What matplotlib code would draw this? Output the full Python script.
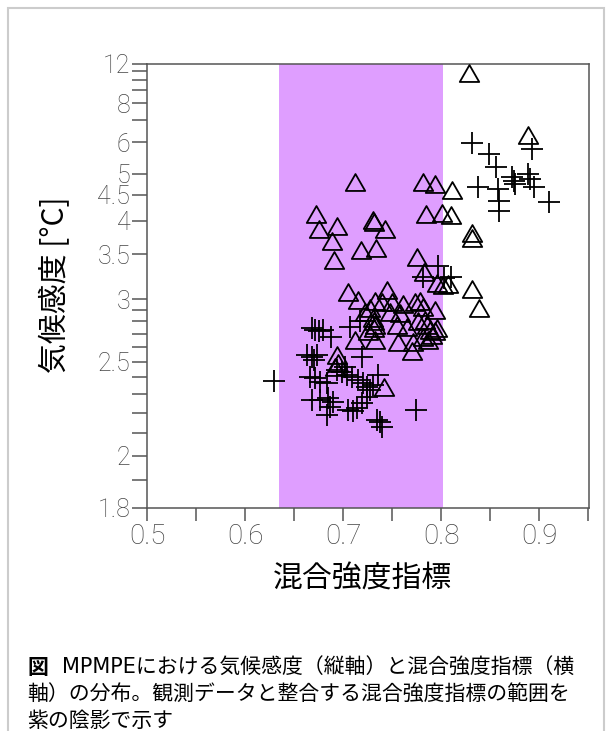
import matplotlib.pyplot as plt
from matplotlib.patches import Rectangle
from matplotlib.path import Path

# data
tri_x = [0.829, 0.889, 0.712, 0.782, 0.794, 0.811, 0.785, 0.801, 0.810, 0.832, 0.832,
         0.672, 0.675, 0.694, 0.689, 0.691, 0.731, 0.732, 0.743, 0.718, 0.734, 0.775, 0.783,
         0.796, 0.802, 0.807, 0.832, 0.839, 0.705, 0.715, 0.745, 0.733, 0.728, 0.740, 0.750,
         0.748, 0.761, 0.7735, 0.779, 0.782, 0.794, 0.758, 0.731, 0.732, 0.733, 0.732, 0.7255,
         0.755, 0.756, 0.784, 0.786, 0.789, 0.791, 0.794, 0.796, 0.787, 0.782, 0.712, 0.770,
         0.694, 0.695, 0.692, 0.742, 0.733, 0.722, 0.765, 0.777, 0.771]
tri_y = [10.76, 6.29, 4.78, 4.78, 4.73, 4.59, 4.11, 4.13, 4.09, 3.80, 3.73,
         4.11, 3.87, 3.91, 3.68, 3.43, 4.02, 3.97, 3.86, 3.56, 3.59, 3.47, 3.28,
         3.16, 3.14, 3.15, 3.10, 2.92, 3.07, 2.995, 3.09, 2.98, 2.92, 2.97, 2.97,
         2.885, 2.95, 2.97, 2.98, 2.93, 2.90, 2.876, 2.83, 2.807, 2.774, 2.75, 2.72,
         2.774, 2.641, 2.815, 2.774, 2.734, 2.694, 2.72, 2.75, 2.656, 2.679, 2.656, 2.576,
         2.548, 2.494, 2.467, 2.344, 2.656, 2.885, 2.758, 2.80, 2.641]

plus_x = [0.832, 0.849, 0.893, 0.856, 0.838, 0.858, 0.859, 0.859, 0.872, 0.874, 0.875, 0.889, 0.891, 0.895, 0.910,
          0.782, 0.797, 0.803, 0.810,
          0.717, 0.707, 0.719,
          0.668, 0.671, 0.675, 0.680, 0.688, 0.663, 0.668, 0.673, 0.670, 0.630,
          0.666, 0.671, 0.6765, 0.684, 0.694, 0.699, 0.704, 0.709, 0.702, 0.715, 0.720, 0.724, 0.728, 0.731, 0.736,
          0.668, 0.6765, 0.685, 0.690, 0.687, 0.684, 0.705, 0.710, 0.714, 0.719, 0.724, 0.735, 0.738, 0.740, 0.7745]
plus_y = [5.97, 5.58, 5.75, 5.18, 4.66, 4.62, 4.36, 4.17, 4.91, 4.81, 4.73, 4.99, 4.86, 4.66, 4.34,
          3.23, 3.35, 3.22, 3.23,
          2.80, 2.758, 2.534,
          2.75, 2.734, 2.72, 2.734, 2.679, 2.548, 2.534, 2.548, 2.514, 2.380,
          2.404, 2.398, 2.374, 2.368, 2.448, 2.435, 2.417, 2.404, 2.467, 2.386, 2.368, 2.344, 2.327, 2.356, 2.417,
          2.270, 2.270, 2.281, 2.259, 2.233, 2.191, 2.217, 2.212, 2.227, 2.254, 2.287, 2.165, 2.156, 2.131, 2.217]

shade_range = (0.635, 0.802)

x_major = [0.5, 0.6, 0.7, 0.8, 0.9]
x_minor = [0.55, 0.65, 0.75, 0.85, 0.95]
y_major = [12, 8, 6, 5, 4.5, 4, 3.5, 3, 2.5, 2, 1.8]
y_labels = ["12", "8", "6", "5", "4.5", "4", "3.5", "3", "2.5", "2", "1.8"]
y_minor = [11, 10, 9, 7, 2.9, 2.8, 2.7, 2.6, 2.4, 2.3, 2.2, 2.1, 1.9]

cjk = ["Noto Sans CJK JP", "DejaVu Sans"]
caption_font = ["DejaVu Sans", "Noto Sans CJK JP"]  # wide latin, CJK falls through
tickfont = ["Roboto", "DejaVu Sans"]

fig = plt.figure(figsize=(6.12, 7.31), dpi=100)
ax = fig.add_axes([0.2402, 0.3051, 0.7222, 0.6074])

# reciprocal y axis (climate sensitivity shown on a 1/S scale)
ax.set_yscale("function", functions=(lambda v: -1.0 / v, lambda u: -1.0 / u))
ax.set_ylim(1.8, 12)
ax.set_xlim(0.5, 0.951)

ax.axvspan(*shade_range, color="#df9eff", lw=0, zorder=0)

tri = Path([(-1, -0.87), (1, -0.87), (0, 0.87), (-1, -0.87)],
           [Path.MOVETO, Path.LINETO, Path.LINETO, Path.CLOSEPOLY])
ax.plot(tri_x, tri_y, ls="none", marker=tri, ms=14, mfc="none", mec="black", mew=1.3, zorder=3)
ax.plot(plus_x, plus_y, ls="none", marker="+", ms=15.5, mec="black", mew=1.3, zorder=3)

ax.set_xticks(x_major)
ax.set_xticks(x_minor, minor=True)
ax.set_xticklabels([f"{v:.1f}" for v in x_major])
ax.set_yticks(y_major)
ax.set_yticklabels(y_labels)
ax.set_yticks(y_minor, minor=True)
ax.set_yticklabels([], minor=True)

for s in ax.spines.values():
    s.set_color("#555555")
    s.set_linewidth(1.1)
ax.tick_params(axis="both", which="both", direction="out", color="#555555", width=1.1,
               labelcolor="#444444")
ax.tick_params(axis="x", which="both", length=9.5, pad=1)
ax.tick_params(axis="y", which="both", length=11, pad=1)
for lab in ax.get_xticklabels():
    lab.set_family(tickfont)
    lab.set_fontweight("light")
    lab.set_fontsize(20)
for lab in ax.get_yticklabels():
    lab.set_family(tickfont)
    lab.set_fontweight("light")
    lab.set_fontsize(18)

fig.text(0.593, 0.208, "混合強度指標", family=cjk, fontsize=21.5, ha="center", va="center")
fig.text(0.091, 0.610, "気候感度 [°C]", family=cjk, fontsize=21.5, ha="center", va="center",
         rotation=90)

# caption
W, H = 612, 731
fs = 15
fig.text(27 / W, 1 - 668 / H, "図", family=cjk, fontsize=fs, fontweight="bold", va="center")
fig.text(62 / W, 1 - 668 / H, "MPMPEにおける気候感度（縦軸）と混合強度指標（横",
         family=caption_font, fontsize=fs, va="center")
fig.text(27 / W, 1 - 695 / H, "軸）の分布。観測データと整合する混合強度指標の範囲を",
         family=caption_font, fontsize=fs, va="center")
fig.text(27 / W, 1 - 721 / H, "紫の陰影で示す", family=caption_font, fontsize=fs, va="center")

# light frame around the panel
fig.patches.append(Rectangle((8 / W, -0.1), 596 / W, 1.1 - 8 / H, transform=fig.transFigure,
                             fill=False, ec="#cccccc", lw=1.5))

fig.savefig("out.png", dpi=100)
